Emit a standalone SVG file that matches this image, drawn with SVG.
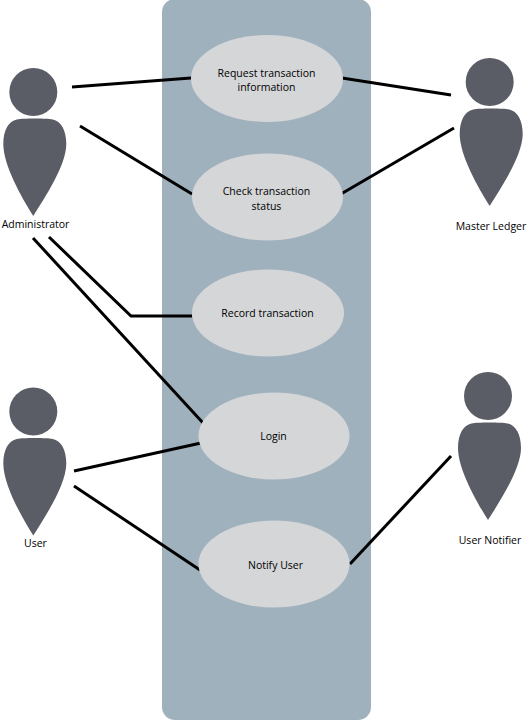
<svg xmlns="http://www.w3.org/2000/svg" width="528" height="720" viewBox="0 0 528 720">
<style>
.a{fill:#5a5d65}
.u{fill:#d5d6d8}
.c{fill:none;stroke:#000;stroke-width:3}
text{font-family:"Open Sans","Noto Sans","DejaVu Sans",sans-serif;font-size:10.500px;fill:#000;text-anchor:middle}
</style>
<defs>
<g id="actor">
<circle cx="0" cy="0" r="24" class="a"/>
<path class="a" d="M1.500 26.500C-7.500 26.500-12.500 26.800-16.500 27.500C-24.500 29-30 38-30 52C-30 73-12 105 0 124C12 105 33 73 33 52C33 38 27.500 29 19.500 27.500C15.500 26.800 10.500 26.500 1.500 26.500Z"/>
</g>
</defs>
<rect x="162" y="-1" width="209" height="721" rx="13" fill="#a0b1be"/>
<g id="connectors">
<path class="c" d="M72 87L191 78"/>
<path class="c" d="M80 126L192 194"/>
<path class="c" d="M451 95L342 78"/>
<path class="c" d="M454 128L341 194"/>
<path class="c" d="M49 237L131 316H192"/>
<path class="c" d="M33 238L204 424"/>
<path class="c" d="M74 471L201 443"/>
<path class="c" d="M74 486L200 570"/>
<path class="c" d="M451 456L350 564"/>
</g>
<g id="admin"><use href="#actor" x="33.300" y="92"/><text x="35.500" y="228">Administrator</text></g>
<g id="master"><use href="#actor" x="489.700" y="82"/><text x="491" y="230">Master Ledger</text></g>
<g id="user"><use href="#actor" x="33.300" y="411.500"/><text x="35.500" y="547">User</text></g>
<g id="notifier"><use href="#actor" x="488" y="396"/><text x="490" y="544">User Notifier</text></g>
<g id="uc1"><ellipse class="u" cx="267" cy="78.500" rx="76" ry="43.500"/><text x="266.500" y="77">Request transaction</text><text x="266.500" y="91">information</text></g>
<g id="uc2"><ellipse class="u" cx="267.500" cy="197" rx="75.500" ry="43.500"/><text x="266.500" y="195">Check transaction</text><text x="266.500" y="210">status</text></g>
<g id="uc3"><ellipse class="u" cx="268" cy="313" rx="76" ry="43.500"/><text x="267.500" y="317">Record transaction</text></g>
<g id="uc4"><ellipse class="u" cx="274" cy="436" rx="75.500" ry="43.500"/><text x="273.500" y="440">Login</text></g>
<g id="uc5"><ellipse class="u" cx="274" cy="564" rx="75.500" ry="43.500"/><text x="275.500" y="569">Notify User</text></g>
</svg>
